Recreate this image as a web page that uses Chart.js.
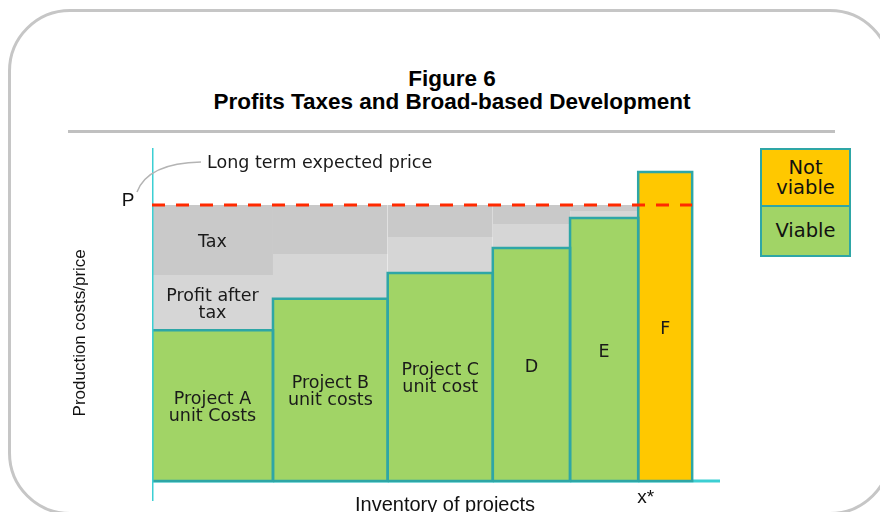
<!DOCTYPE html>
<html>
<head>
<meta charset="utf-8">
<script src="https://cdn.jsdelivr.net/npm/chart.js@4.4.1/dist/chart.umd.min.js"></script>
<style>
  body{margin:0;width:880px;height:512px;overflow:hidden;position:relative;background:#fff;}
  .frame{position:absolute;left:7.5px;top:8.5px;width:884px;height:506px;box-sizing:border-box;
         border:3px solid #c6c6c6;border-radius:62px;}
  .ttl{position:absolute;left:12px;top:67px;width:880px;text-align:center;
       font:bold 22.5px "Liberation Sans",Arial,sans-serif;line-height:23px;color:#000;}
  .sep{position:absolute;left:68px;top:129.5px;width:767px;height:3px;background:#c0c0c0;}
  canvas{position:absolute;left:0;top:0;}
  .leg{position:absolute;left:760px;width:91px;box-sizing:border-box;border:2.5px solid #2ea6a6;
       display:flex;align-items:center;justify-content:center;text-align:center;
       font:19.5px "DejaVu Sans",Verdana,sans-serif;line-height:20px;color:#111;}
</style>
</head>
<body>
<div class="frame"></div>
<div class="ttl">Figure 6<br>Profits Taxes and Broad-based Development</div>
<div class="sep"></div>
<canvas id="c" width="880" height="512"></canvas>
<div class="leg" style="top:148px;height:59px;background:#ffc800;">Not<br>viable</div>
<div class="leg" style="top:204.5px;height:52px;background:#a1d466;">Viable</div>
<script>
// projects in order of unit cost (inventory on x, cost/price on y)
const projects=['Project A\nunit Costs','Project B\nunit costs','Project C\nunit cost','D','E','F'];
const capacity=[21.3,20.2,18.5,13.6,12.0,9.5];        // width of each project on the inventory axis
const unitCost=[45.3,54.7,62.5,70.0,79.0,92.8];       // production cost per unit
const afterTaxTop=[61.9,68.2,73.3,77.2,81.1];         // top of profit-after-tax band (= bottom of tax band)
const viable=[true,true,true,true,true,false];
const price=82.9;                                     // long term expected price P

const GREEN='#a1d466', YELLOW='#ffc800', EDGE='#2ea6a6', AXIS='#3ccfd3';
const TAXC='#c9c9c9', PROFC='#d6d6d6';

// cumulative edges along inventory
const edges=[0]; capacity.forEach((w,i)=>edges.push(edges[i]+w));

const ds=[];
// profit/tax bands above viable projects
afterTaxTop.forEach((t,i)=>{
  ds.push({data:[{x:edges[i],y:price},{x:edges[i+1],y:price}],fill:{value:t},
    backgroundColor:TAXC,borderWidth:0,pointRadius:0,order:6});
  ds.push({data:[{x:edges[i],y:t},{x:edges[i+1],y:t}],fill:{value:unitCost[i]},
    backgroundColor:PROFC,borderWidth:0,pointRadius:0,order:6});
});
// x axis line
ds.push({data:[{x:0,y:0},{x:100,y:0}],borderColor:AXIS,borderWidth:3,pointRadius:0,fill:false,order:5});
// project bars: filled body + outline
unitCost.forEach((c,i)=>{
  ds.push({data:[{x:edges[i],y:c},{x:edges[i+1],y:c}],fill:{value:0},
    backgroundColor:viable[i]?GREEN:YELLOW,borderWidth:0,pointRadius:0,order:4});
  ds.push({data:[{x:edges[i],y:0},{x:edges[i],y:c},{x:edges[i+1],y:c},{x:edges[i+1],y:0},{x:edges[i],y:0}],
    fill:false,borderColor:EDGE,borderWidth:2.5,pointRadius:0,order:3});
});
// y axis line
ds.push({data:[{x:0,y:-6},{x:0,y:100}],borderColor:AXIS,borderWidth:3,pointRadius:0,fill:false,order:2});
// price line
ds.push({data:[{x:0,y:price},{x:edges[6],y:price}],borderColor:'#ff2a00',borderWidth:3,borderDash:[13,11],
  pointRadius:0,fill:false,order:1});

const labels={id:'labels',afterDatasetsDraw(ch){
  const {ctx,scales:{x,y}}=ch;
  ctx.save();
  ctx.fillStyle='#1a1a1a';ctx.textAlign='center';ctx.textBaseline='middle';
  const multi=(txt,px,py,lh)=>{const ls=txt.split('\n');ls.forEach((l,k)=>ctx.fillText(l,px,py+2.5+(k-(ls.length-1)/2)*lh));};
  ctx.font='17.5px "DejaVu Sans", Verdana, sans-serif';
  projects.forEach((p,i)=>{
    multi(p,x.getPixelForValue((edges[i]+edges[i+1])/2),y.getPixelForValue(unitCost[i]/2),17);
  });
  const ax=x.getPixelForValue((edges[0]+edges[1])/2);
  multi('Tax',ax,y.getPixelForValue((price+afterTaxTop[0])/2),17);
  multi('Profit after\ntax',ax,y.getPixelForValue((afterTaxTop[0]+unitCost[0])/2),17);
  // long term price callout
  const py=y.getPixelForValue(price), x0=x.getPixelForValue(0);
  ctx.textAlign='left';
  ctx.fillText('Long term expected price',x0+55,py-41);
  ctx.strokeStyle='#b4b4b4';ctx.lineWidth=1.5;
  ctx.beginPath();ctx.moveTo(x0-15,py-13);ctx.quadraticCurveTo(x0-4,py-42,x0+49,py-43);ctx.stroke();
  // Arial texts
  ctx.textAlign='center';ctx.fillStyle='#111';
  ctx.font='19px "Liberation Sans", Arial, sans-serif';
  ctx.fillText('P',x0-24,py-4);
  ctx.fillText('x*',x.getPixelForValue(edges[5]+1.3),y.getPixelForValue(0)+17);
  ctx.font='20px "Liberation Sans", Arial, sans-serif';
  ctx.fillText('Inventory of projects',445,y.getPixelForValue(0)+24);
  ctx.save();
  ctx.translate(80,y.getPixelForValue(44.5));ctx.rotate(-Math.PI/2);
  ctx.font='17px "Liberation Sans", Arial, sans-serif';
  ctx.fillText('Production costs/price',0,0);
  ctx.restore();
  ctx.restore();
}};

new Chart(document.getElementById('c'),{
  type:'line',
  data:{datasets:ds},
  options:{
    responsive:false,animation:false,events:[],
    layout:{padding:{left:152,right:160,top:148,bottom:11}},
    plugins:{legend:{display:false},tooltip:{enabled:false},title:{display:false}},
    scales:{
      x:{type:'linear',min:0,max:100,display:false},
      y:{type:'linear',min:-6,max:100,display:false}
    }
  },
  plugins:[labels]
});
</script>
</body>
</html>
